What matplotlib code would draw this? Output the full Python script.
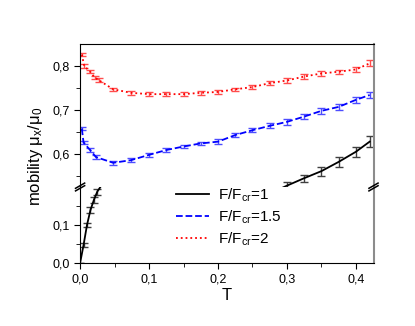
import numpy as np
import matplotlib
matplotlib.use('Agg')
import matplotlib.pyplot as plt
from matplotlib.ticker import FuncFormatter, MultipleLocator, FixedLocator

plt.rcParams['font.family'] = ['Liberation Sans', 'DejaVu Sans']

# F/Fcr = 1 (black), low-T branch and high-T branch
T1_lo = [0.0, 0.005, 0.01, 0.015, 0.02, 0.025, 0.035]
m1_lo = [0.0, 0.047, 0.100, 0.139, 0.166, 0.188, 0.215]
e1_lo = [0.0, 0.006, 0.006, 0.008, 0.008, 0.008, 0.010]
T1_hi = [0.275, 0.30, 0.325, 0.35, 0.375, 0.40, 0.42]
m1_hi = [0.510, 0.528, 0.545, 0.561, 0.582, 0.605, 0.628]
e1_hi = [0.008, 0.008, 0.008, 0.010, 0.012, 0.012, 0.012]

# F/Fcr = 1.5 (blue)
T2 = [0.0025, 0.005, 0.0145, 0.023, 0.048, 0.074, 0.1, 0.125, 0.15, 0.175,
      0.2, 0.225, 0.25, 0.275, 0.3, 0.325, 0.35, 0.375, 0.4, 0.42]
m2 = [0.658, 0.626, 0.609, 0.593, 0.580, 0.586, 0.598, 0.609, 0.617, 0.624,
      0.628, 0.643, 0.654, 0.664, 0.673, 0.685, 0.698, 0.707, 0.723, 0.734]
e2 = [0.004, 0.004, 0.004, 0.004, 0.004, 0.004, 0.004, 0.004, 0.004, 0.004,
      0.005, 0.005, 0.005, 0.006, 0.006, 0.006, 0.007, 0.007, 0.007, 0.007]

# F/Fcr = 2 (red)
T3 = [0.0025, 0.006, 0.0145, 0.021, 0.027, 0.048, 0.074, 0.1, 0.125, 0.15,
      0.175, 0.2, 0.225, 0.25, 0.275, 0.3, 0.325, 0.35, 0.375, 0.4, 0.42]
m3 = [0.826, 0.800, 0.787, 0.774, 0.768, 0.747, 0.739, 0.736, 0.736, 0.736,
      0.739, 0.741, 0.747, 0.752, 0.761, 0.767, 0.776, 0.783, 0.787, 0.792, 0.806]
e3 = [0.004, 0.004, 0.004, 0.004, 0.004, 0.004, 0.004, 0.004, 0.004, 0.004,
      0.004, 0.004, 0.004, 0.005, 0.005, 0.005, 0.005, 0.005, 0.005, 0.006, 0.007]

comma = FuncFormatter(lambda v, p: ('%.1f' % v).replace('.', ','))

fig = plt.figure(figsize=(4.15, 3.26), dpi=100)
ax_hi = fig.add_axes([0.193, 0.4264, 0.707, 0.4387])
ax_lo = fig.add_axes([0.193, 0.1933, 0.707, 0.2331])

eb = dict(capsize=2.8, elinewidth=1, capthick=1)

# upper panel
ax_hi.errorbar(T3, m3, yerr=e3, color='red', ls=':', lw=1.3,
               ecolor=(1, 0.3, 0.3), **eb)
ax_hi.errorbar(T2, m2, yerr=e2, color='blue', ls='--', lw=1.3,
               ecolor=(0.3, 0.3, 1), **eb)
ax_hi.errorbar(T1_hi, m1_hi, yerr=e1_hi, color='black', ls='-', lw=1.3,
               ecolor='0.25', **eb)
ax_hi.set_ylim(0.525, 0.85)

# lower panel
ax_lo.errorbar(T1_lo, m1_lo, yerr=e1_lo, color='black', ls='-', lw=1.3,
               ecolor='0.25', **eb)
ax_lo.set_ylim(0.0, 0.2)

for ax in (ax_hi, ax_lo):
    ax.set_xlim(0, 0.4256)
    ax.xaxis.set_major_locator(MultipleLocator(0.1))
    ax.xaxis.set_minor_locator(MultipleLocator(0.05))
    ax.yaxis.set_major_formatter(comma)
    ax.xaxis.set_major_formatter(comma)
    ax.tick_params(which='both', direction='out', labelsize=9, right=False, top=False)
    ax.tick_params(which='major', length=4)
    ax.tick_params(which='minor', length=3)
    ax.spines['right'].set_color('0.55')
    ax.spines['right'].set_linewidth(1.5)

ax_hi.yaxis.set_major_locator(FixedLocator([0.6, 0.7, 0.8]))
ax_hi.yaxis.set_minor_locator(FixedLocator([0.55, 0.65, 0.75]))
ax_lo.yaxis.set_major_locator(FixedLocator([0.0, 0.1]))
ax_lo.yaxis.set_minor_locator(FixedLocator([0.05, 0.15]))

ax_hi.spines['bottom'].set_visible(False)
ax_hi.tick_params(axis='x', which='both', bottom=False, labelbottom=False)
ax_lo.spines['top'].set_visible(False)

# break marks
for xf in (0.0, 1.0):
    for dy in (-0.004, 0.004):
        fig.add_artist(plt.Line2D([0.193 + 0.707 * xf - 0.011, 0.193 + 0.707 * xf + 0.011],
                                  [0.4264 + dy - 0.008, 0.4264 + dy + 0.008],
                                  color='black', lw=1.1))

ax_lo.set_xlabel('T', fontsize=12, labelpad=2)
fig.text(0.085, 0.52, r'mobility $\mathregular{\mu_x/\mu_0}$', rotation=90, fontsize=12,
         ha='center', va='center')

handles = [plt.Line2D([], [], color='black', ls='-', lw=1.3),
           plt.Line2D([], [], color='blue', ls='--', lw=1.3),
           plt.Line2D([], [], color='red', ls=':', lw=1.3)]
labels = [r'F/F$\mathregular{_{cr}}$=1', r'F/F$\mathregular{_{cr}}$=1.5',
          r'F/F$\mathregular{_{cr}}$=2']
fig.legend(handles, labels, loc='upper left', bbox_to_anchor=(0.39, 0.47),
           frameon=False, fontsize=11, handlelength=2.2, labelspacing=0.3,
           handletextpad=0.6)

fig.savefig('out.png', dpi=100)
